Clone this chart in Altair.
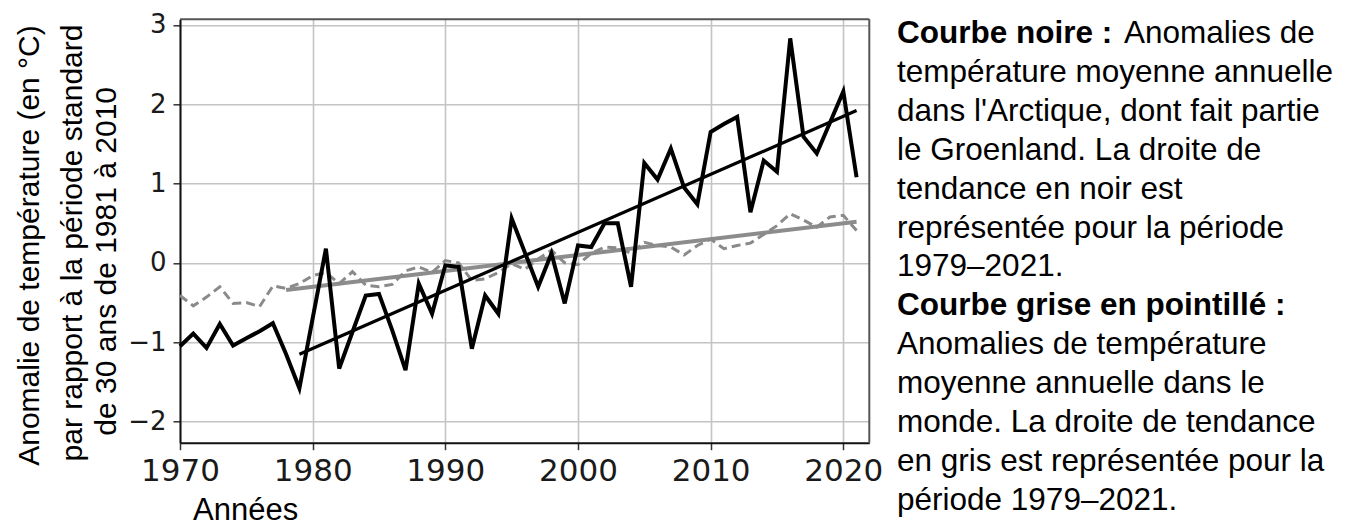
import altair as alt
import pandas as pd

# Années 1970-2021
years = list(range(1970, 2022))

# Anomalies Arctique (courbe noire)
arctic = [-1.05, -0.89, -1.07, -0.77, -1.04, -0.95, -0.86, -0.76, -1.15, -1.58,
          -0.70, 0.18, -1.33, -0.87, -0.41, -0.39, -0.85, -1.35, -0.26, -0.64,
          -0.03, -0.05, -1.08, -0.41, -0.64, 0.56, 0.13, -0.30, 0.12, -0.51,
          0.22, 0.20, 0.50, 0.50, -0.30, 1.26, 1.05, 1.44, 0.95, 0.74,
          1.65, 1.75, 1.84, 0.64, 1.29, 1.15, 2.83, 1.59, 1.38, 1.77,
          2.16, 1.08]

# Anomalies monde (courbe grise en pointillé)
world = [-0.41, -0.54, -0.43, -0.30, -0.51, -0.50, -0.55, -0.29, -0.32, -0.26,
         -0.16, -0.12, -0.26, -0.11, -0.28, -0.30, -0.27, -0.10, -0.05, -0.12,
         0.03, 0.00, -0.22, -0.20, -0.12, -0.01, -0.08, 0.05, 0.16, 0.00,
         -0.02, 0.12, 0.20, 0.19, 0.12, 0.26, 0.22, 0.20, 0.10, 0.22,
         0.30, 0.18, 0.22, 0.25, 0.36, 0.47, 0.62, 0.54, 0.45, 0.58,
         0.60, 0.41]

# Droites de tendance
trend_black_years = [1979, 2021]
trend_black = [-1.15, 1.92]
trend_grey_years = [1978, 2021]
trend_grey = [-0.34, 0.52]

y_title_lines = [
    "Anomalie de température (en °C)",
    "par rapport à la période standard",
    "de 30 ans de 1981 à 2010",
]

legend_lines = [
    ("Courbe noire :", "Anomalies de"),
    ("", "température moyenne annuelle"),
    ("", "dans l'Arctique, dont fait partie"),
    ("", "le Groenland. La droite de"),
    ("", "tendance en noir est"),
    ("", "représentée pour la période"),
    ("", "1979–2021."),
    ("Courbe grise en pointillé :", ""),
    ("", "Anomalies de température"),
    ("", "moyenne annuelle dans le"),
    ("", "monde. La droite de tendance"),
    ("", "en gris est représentée pour la"),
    ("", "période 1979–2021."),
]

df = pd.DataFrame({"year": years, "arctic": arctic, "world": world})
tb = pd.DataFrame({"year": trend_black_years, "value": trend_black})
tg = pd.DataFrame({"year": trend_grey_years, "value": trend_grey})

W, H = 689.3, 423.4
FONT = "Liberation Sans"


def xenc():
    return alt.X("year:Q",
                 scale=alt.Scale(domain=[1970, 2021.96], nice=False, zero=False),
                 axis=alt.Axis(values=[1970, 1980, 1990, 2000, 2010, 2020], format="d",
                               title=None, labelFont="DejaVu Sans", labelFontSize=31,
                               labelColor="#1a1a1a", labelPadding=7, labelFlush=False,
                               tickSize=7, tickColor="#333", tickWidth=1.5,
                               domainColor="#111", domainWidth=2,
                               gridColor="#c4c4c4", gridWidth=1.6))


def yenc(field):
    return alt.Y(field,
                 scale=alt.Scale(domain=[-2.265, 3.07], nice=False, zero=False),
                 axis=alt.Axis(values=[-2, -1, 0, 1, 2, 3], format="d", title=None,
                               labelFont="DejaVu Sans", labelFontSize=26,
                               labelColor="#1a1a1a", labelPadding=7, labelFlush=False,
                               tickSize=7, tickColor="#333", tickWidth=1.5,
                               domainColor="#111", domainWidth=2,
                               gridColor="#c4c4c4", gridWidth=1.6))


grey_trend = alt.Chart(tg).mark_line(color="#8c8c8c", strokeWidth=4).encode(
    x=xenc(), y=yenc("value:Q"))
grey_dash = alt.Chart(df).mark_line(color="#8a8a8a", strokeWidth=3,
                                    strokeDash=[9, 5]).encode(
    x=xenc(), y=yenc("world:Q"))
black_line = alt.Chart(df).mark_line(color="#000", strokeWidth=4,
                                     strokeJoin="miter").encode(
    x=xenc(), y=yenc("arctic:Q"))
black_trend = alt.Chart(tb).mark_line(color="#000", strokeWidth=3.2).encode(
    x=xenc(), y=yenc("value:Q"))

# cadre haut et droite du graphique
frame_top = alt.Chart(pd.DataFrame({"a": [0]})).mark_rule(
    color="#555", strokeWidth=2).encode(
    x=alt.value(0), x2=alt.value(W), y=alt.value(0))
frame_right = alt.Chart(pd.DataFrame({"a": [0]})).mark_rule(
    color="#555", strokeWidth=2).encode(
    x=alt.value(W), y=alt.value(0), y2=alt.value(H))

layers = [frame_top, frame_right, grey_trend, grey_dash, black_line, black_trend]


def label(text, x, y, **kw):
    return alt.Chart(pd.DataFrame({"t": [text]})).mark_text(
        font=FONT, color="#000", **kw).encode(
        text="t:N", x=alt.value(x), y=alt.value(y))


# titre de l'axe des ordonnées (trois lignes verticales)
for t, (lx, ly) in zip(y_title_lines, [(-141.3, 226.2), (-98.3, 223.7), (-64, 242)]):
    layers.append(label(t, lx, ly, angle=270, align="center",
                        baseline="alphabetic", fontSize=30))

# titre de l'axe des abscisses
layers.append(label("Années", 13, 500.5, align="left", baseline="alphabetic",
                    fontSize=31))

# texte explicatif à droite
for i, (bold, reg) in enumerate(legend_lines):
    by = 43 + i * 38.9 - 19.3
    if bold:
        layers.append(label(bold, 717, by, align="left", baseline="alphabetic",
                            fontSize=31.5, fontWeight="bold"))
    if reg:
        rx = 944 if bold else 717
        layers.append(label(reg, rx, by, align="left", baseline="alphabetic",
                            fontSize=31.5))

chart = alt.layer(*layers).properties(
    width=W, height=H,
    autosize=alt.AutoSizeParams(type="none"),
    padding={"left": 172, "top": 11.3, "right": 476.7, "bottom": 84.3},
).configure(background="white").configure_view(stroke=None)

chart.save("out.html", embed_options={"renderer": "svg", "actions": False})
